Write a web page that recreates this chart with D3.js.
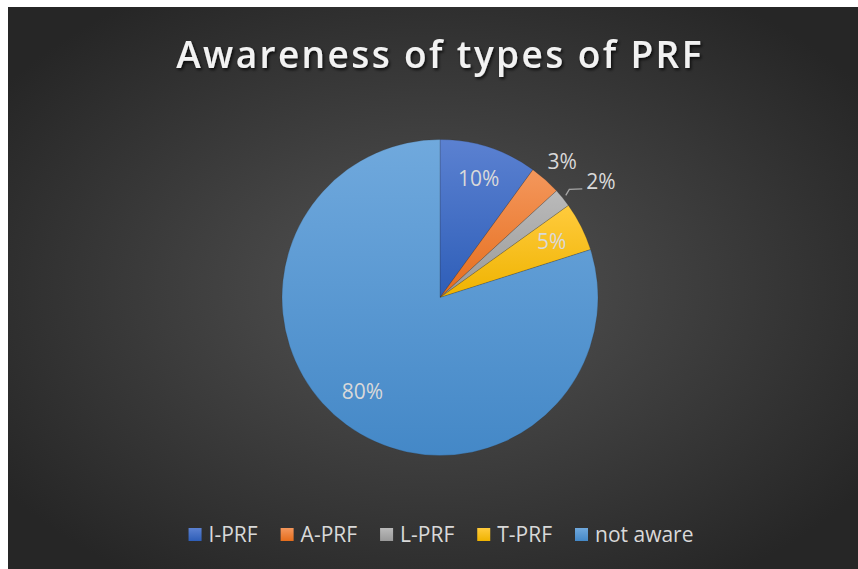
<!DOCTYPE html>
<html>
<head>
<meta charset="utf-8">
<script src="https://cdn.jsdelivr.net/npm/d3@7"></script>
<style>
  html, body { margin: 0; padding: 0; background: #fff; }
  svg { display: block; }
</style>
</head>
<body>
<div id="chart"></div>
<script>
// data
var categories = ['I-PRF', 'A-PRF', 'L-PRF', 'T-PRF', 'not aware'];
var values = [10, 3.2, 1.9, 5, 79.9];
var topColors = ['#5b81d1', '#f4975c', '#bababa', '#ffcb3d', '#70a9dd'];
var bottomColors = ['#2e5eb8', '#e56d1c', '#999999', '#efb300', '#4488c7'];
var outsideLabels = ['A-PRF', 'L-PRF'];

var width = 858, height = 569;
var cx = 440, cy = 297.5, radius = 158;

var svg = d3.select('#chart').append('svg')
  .attr('width', width)
  .attr('height', height);

var defs = svg.append('defs');

var bg = defs.append('radialGradient')
  .attr('id', 'bg')
  .attr('cx', 0.5).attr('cy', 0.5).attr('r', 0.62);
bg.append('stop').attr('offset', '0%').attr('stop-color', '#545454');
bg.append('stop').attr('offset', '100%').attr('stop-color', '#262626');

var shadow = defs.append('filter').attr('id', 'shadow')
  .attr('x', '-10%').attr('y', '-30%').attr('width', '120%').attr('height', '160%');
shadow.append('feDropShadow')
  .attr('dx', 1.5).attr('dy', 2).attr('stdDeviation', 1.6)
  .attr('flood-color', '#000').attr('flood-opacity', 0.75);

categories.forEach(function (c, i) {
  var g = defs.append('linearGradient')
    .attr('id', 'grad' + i)
    .attr('x1', 0).attr('y1', 0).attr('x2', 0).attr('y2', 1);
  g.append('stop').attr('offset', '0%').attr('stop-color', topColors[i]);
  g.append('stop').attr('offset', '100%').attr('stop-color', bottomColors[i]);
});

// chart area
svg.append('rect')
  .attr('x', 8).attr('y', 7)
  .attr('width', width - 8).attr('height', height - 7)
  .attr('fill', 'url(#bg)');

// title
svg.append('text')
  .attr('x', 440).attr('y', 68)
  .attr('text-anchor', 'middle')
  .attr('font-family', 'Open Sans, sans-serif')
  .attr('font-weight', 600)
  .attr('font-size', 37)
  .attr('letter-spacing', 2.4)
  .attr('fill', '#f2f2f2')
  .attr('filter', 'url(#shadow)')
  .text('Awareness of types of PRF');

// pie
var pie = d3.pie().sort(null).value(function (d) { return d; });
var arcs = pie(values);
var arc = d3.arc().innerRadius(0).outerRadius(radius);
var labelArc = d3.arc().innerRadius(radius * 0.79).outerRadius(radius * 0.79);

var g = svg.append('g').attr('transform', 'translate(' + cx + ',' + cy + ')');

g.selectAll('path.slice')
  .data(arcs)
  .enter().append('path')
  .attr('class', 'slice')
  .attr('d', arc)
  .attr('fill', function (d, i) { return 'url(#grad' + i + ')'; })
  .attr('stroke', 'rgba(40,40,40,0.35)')
  .attr('stroke-width', 0.6);

var fmt = d3.format('.0%');

arcs.forEach(function (d, i) {
  var txt = fmt(d.data / 100);
  var mid = (d.startAngle + d.endAngle) / 2;
  var label = g.append('text')
    .attr('font-family', 'Open Sans, sans-serif')
    .attr('font-size', 21)
    .attr('fill', '#d9d9d9')
    .text(txt);

  if (outsideLabels.indexOf(categories[i]) < 0) {
    var p = labelArc.centroid(d);
    if (categories[i] === 'not aware') p = [p[0] - 4, p[1] - 6];
    label.attr('x', p[0]).attr('y', p[1] + 7).attr('text-anchor', 'middle');
  } else if (categories[i] === 'A-PRF') {
    var r = radius + 24;
    label.attr('x', r * Math.sin(mid) + 1).attr('y', -r * Math.cos(mid) + 7)
      .attr('text-anchor', 'middle');
  } else {
    // leader line
    var r0 = radius + 4;
    var p0 = [r0 * Math.sin(mid), -r0 * Math.cos(mid)];
    var p1 = [p0[0] + 3.5, p0[1] - 6];
    var p2 = [p1[0] + 13, p1[1] - 0.5];
    g.append('path')
      .attr('d', d3.line()([p0, p1, p2]))
      .attr('fill', 'none')
      .attr('stroke', '#a6a6a6')
      .attr('stroke-width', 1.3);
    label.attr('x', p2[0] + 4).attr('y', p2[1] + 0.5).attr('text-anchor', 'start');
  }
});

// legend
var legend = svg.append('g');
var x = 0;
categories.forEach(function (c, i) {
  var item = legend.append('g');
  item.append('rect')
    .attr('x', 0).attr('y', 528)
    .attr('width', 13).attr('height', 13)
    .attr('fill', 'url(#grad' + i + ')');
  var t = item.append('text')
    .attr('x', 20).attr('y', 542)
    .attr('font-family', 'Open Sans, sans-serif')
    .attr('font-size', 21)
    .attr('fill', '#d9d9d9')
    .text(c);
  item.attr('transform', 'translate(' + x + ',0)');
  x += 20 + t.node().getComputedTextLength() + 23;
});
var total = x - 23;
legend.attr('transform', 'translate(' + (441 - total / 2) + ',0)');
</script>
</body>
</html>
